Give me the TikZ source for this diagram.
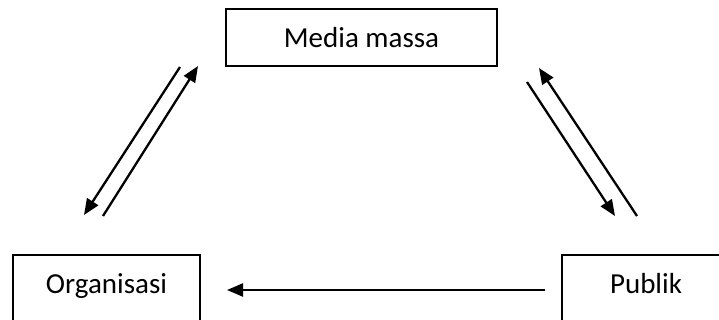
\documentclass[tikz,border=0pt]{standalone}
\usepackage{fontspec}
\setmainfont{Carlito}
\usetikzlibrary{arrows.meta}
\begin{document}
\begin{tikzpicture}[x=1pt,y=-1pt,
  box/.style={draw, line width=1.5pt, inner sep=0pt, font=\fontsize{29}{34}\selectfont},
  arr/.style={line width=2.3pt, -{Triangle[length=16pt,width=13pt]}}]
\useasboundingbox (0,0) rectangle (719,320);
\clip (0,0) rectangle (719,320);
\node[box, minimum width=271pt, minimum height=57pt] (media) at (361.5,37.5) {Media massa};
\node[box, anchor=base, minimum width=187pt, text height=38pt, text depth=37pt] (org) at (106.5,293) {Organisasi};
\node[box, anchor=base, minimum width=168pt, text height=38pt, text depth=37pt] (pub) at (646,293) {Publik};
\coordinate (ml1) at (180,67);
\coordinate (ml2) at (84,215);
\coordinate (ml3) at (103,216);
\coordinate (ml4) at (198,66);
\coordinate (mr1) at (527,82);
\coordinate (mr2) at (615,216);
\coordinate (mr3) at (637,216);
\coordinate (mr4) at (539,68);
\coordinate (h1) at (545,290);
\coordinate (h2) at (227,290);
\draw[arr] (ml1) -- (ml2);
\draw[arr] (ml3) -- (ml4);
\draw[arr] (mr1) -- (mr2);
\draw[arr] (mr3) -- (mr4);
\draw[arr] (h1) -- (h2);
\end{tikzpicture}
\end{document}
